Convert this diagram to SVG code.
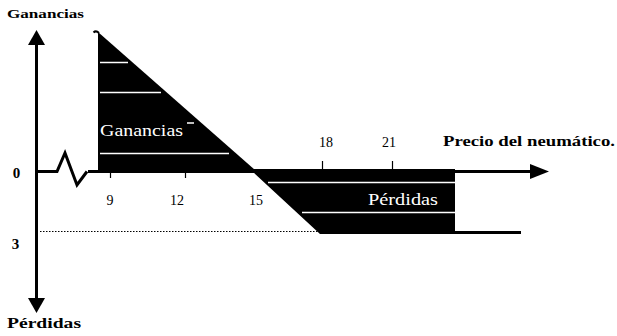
<svg xmlns="http://www.w3.org/2000/svg" width="617" height="336" viewBox="0 0 617 336">
<style>
.ax{stroke:#000;stroke-width:3;fill:none}
.tk{stroke:#000;stroke-width:1.2}
.wl{stroke:#fff;stroke-width:1.5}
.lb{font-family:"Liberation Serif","Times New Roman","DejaVu Serif",serif;font-weight:bold;font-size:13px;fill:#000}
.num{font-family:"Liberation Serif","Times New Roman","DejaVu Serif",serif;font-size:14px;fill:#000}
.wt{font-family:"Liberation Serif","Times New Roman","DejaVu Serif",serif;font-size:17px;fill:#fff}
</style>
<rect width="617" height="336" fill="#fff"/>
<g id="regions">
<path d="M98,32 L255,170 L98,170 Z" fill="#000"/>
<path d="M93.5,32.5 Q96,30 99,33" stroke="#000" stroke-width="2" fill="none"/>
<path d="M253,169 L455,169 L455,231 L521,231 L521,234 L320,234 L253,172 Z" fill="#000"/>
<g id="whitelines">
<line class="wl" x1="100" y1="62.5" x2="128" y2="62.5"/>
<line class="wl" x1="100" y1="92.5" x2="161" y2="92.5"/>
<line class="wl" x1="187" y1="123" x2="194" y2="123"/>
<line class="wl" x1="100" y1="153.5" x2="229" y2="153.5"/>
<line class="wl" x1="268" y1="182.5" x2="455" y2="182.5"/>
<line class="wl" x1="302" y1="212.5" x2="455" y2="212.5"/>
</g>
</g>
<g id="axes">
<line class="ax" x1="36.5" y1="44" x2="36.5" y2="299"/>
<polygon points="28,45 36.5,30 45,45" fill="#000"/>
<polygon points="28,298 36.5,313 45,298" fill="#000"/>
<polyline class="ax" points="36,171.5 57,171.5 65,153 77,185 87,171.5"/>
<line class="ax" x1="88" y1="171.5" x2="532" y2="171.5"/>
<polygon points="530,164 549,171.5 530,179" fill="#000"/>
<line class="tk" x1="110.5" y1="172" x2="110.5" y2="178"/>
<line class="tk" x1="185.5" y1="172" x2="185.5" y2="178"/>
<line class="tk" x1="322.5" y1="161" x2="322.5" y2="169"/>
<line class="tk" x1="392.5" y1="161" x2="392.5" y2="169"/>
<line x1="40" y1="231.5" x2="318" y2="231.5" stroke="#000" stroke-width="1" stroke-dasharray="1.5 1.5"/>
</g>
<g id="labels">
<text class="lb" x="7" y="18" textLength="77" lengthAdjust="spacingAndGlyphs">Ganancias</text>
<text class="lb" x="7" y="328" textLength="74" lengthAdjust="spacingAndGlyphs" style="font-size:14px">Pérdidas</text>
<text class="lb" x="16.5" y="178" text-anchor="middle" style="font-size:15px">0</text>
<text class="lb" x="15.5" y="249" text-anchor="middle" style="font-size:15px">3</text>
<text class="num" x="110" y="205" text-anchor="middle">9</text>
<text class="num" x="177" y="205" text-anchor="middle">12</text>
<text class="num" x="256" y="205" text-anchor="middle">15</text>
<text class="num" x="326" y="147" text-anchor="middle">18</text>
<text class="num" x="389" y="147" text-anchor="middle">21</text>
<text class="lb" x="443" y="146" style="font-size:15px" textLength="172" lengthAdjust="spacingAndGlyphs">Precio del neumático.</text>
<text class="wt" x="100" y="136" textLength="83" lengthAdjust="spacingAndGlyphs">Ganancias</text>
<text class="wt" x="368" y="205" textLength="70" lengthAdjust="spacingAndGlyphs">Pérdidas</text>
</g>
</svg>
